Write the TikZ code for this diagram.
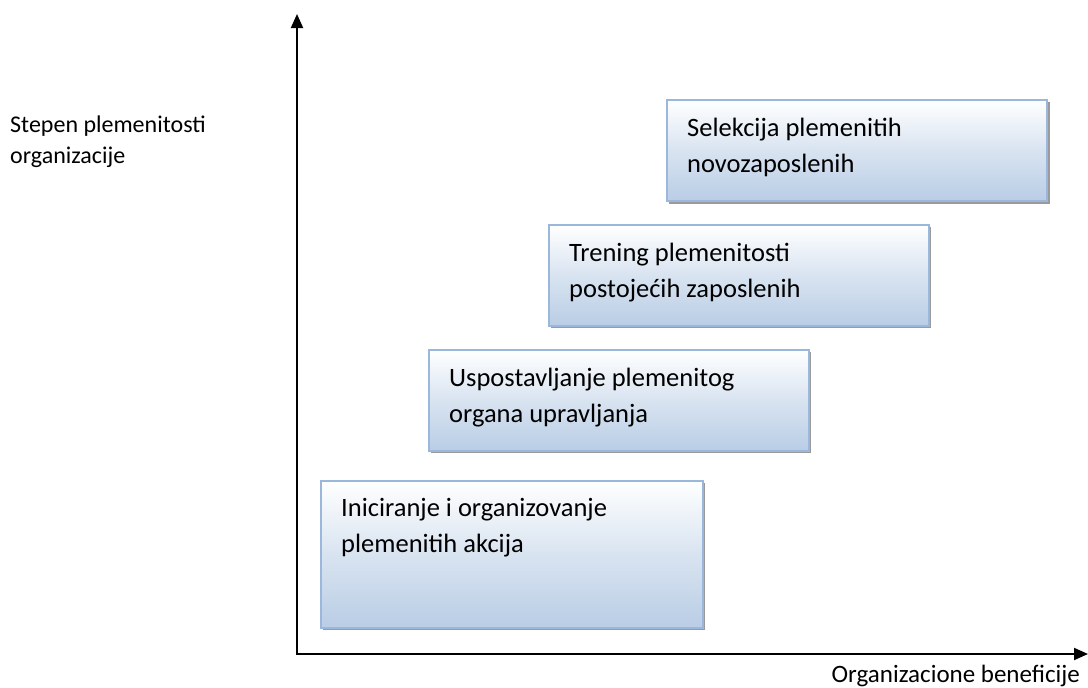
\documentclass[tikz,border=0pt]{standalone}
\usepackage{fontspec}
\setmainfont{Carlito}
\usetikzlibrary{arrows.meta}
\definecolor{boxedge}{HTML}{9BB8DC}
\definecolor{boxbot}{HTML}{B9CDE5}
\definecolor{shadowc}{HTML}{9A9A9A}
\tikzset{
  stagebox/.style={draw=boxedge, line width=2pt, top color=white, bottom color=boxbot, middle color=boxbot!55!white,
    minimum height=101pt, minimum width=380pt, inner sep=0pt, anchor=north west},
  stagetext/.style={anchor=base west, align=left, font=\fontsize{26.5pt}{36pt}\selectfont, inner sep=0pt},
  axislbl/.style={font=\fontsize{24pt}{31pt}\selectfont, inner sep=0pt, align=left},
  axisline/.style={line width=2pt, -{Triangle[length=14pt, width=12pt]}}
}
\begin{document}
\begin{tikzpicture}[x=1pt,y=-1pt]
\useasboundingbox (0,0) rectangle (1088,688);
% shadows
\fill[shadowc] (669,102) rectangle (1050,204);
\fill[shadowc] (551,227) rectangle (931,328);
\fill[shadowc] (431,352) rectangle (811,453);
\fill[shadowc] (323,483) rectangle (705,630);
% boxes
\node[stagebox] (b4) at (666,99) {};
\node[stagebox] (b3) at (548,224) {};
\node[stagebox] (b2) at (428,349) {};
\node[stagebox, minimum width=382pt, minimum height=147pt] (b1) at (320,480) {};
% text nodes: base anchor sits on the last line
\node[stagetext] (t4) at ([shift={(21,73)}]b4.north west) {Selekcija plemenitih\\novozaposlenih};
\node[stagetext] (t3) at ([shift={(21,73)}]b3.north west) {Trening plemenitosti\\postojećih zaposlenih};
\node[stagetext] (t2) at ([shift={(21,73)}]b2.north west) {Uspostavljanje plemenitog\\organa upravljanja};
\node[stagetext] (t1) at ([shift={(21,72)}]b1.north west) {Iniciranje i organizovanje\\plemenitih akcija};
% axes
\coordinate (o) at (297,654);
\coordinate (ytop) at (297,14);
\coordinate (xend) at (1088,654);
\draw[axisline] (o) -- (ytop);
\draw[axisline] ([xshift=-1pt]o) -- (xend);
\node[axislbl, anchor=base west] (ylbl) at (10,163) {Stepen plemenitosti\\organizacije};
\node[axislbl, anchor=base east, font=\fontsize{25pt}{32pt}\selectfont] (xlbl) at (1080,682) {Organizacione beneficije};
\end{tikzpicture}
\end{document}
